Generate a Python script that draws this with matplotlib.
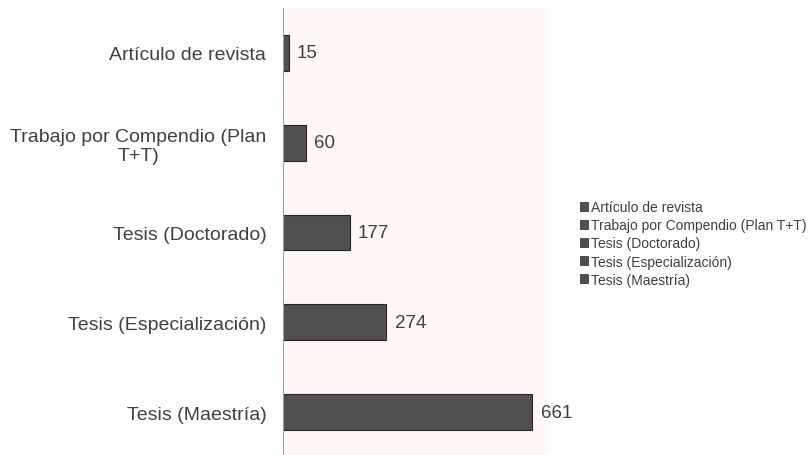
import matplotlib.pyplot as plt
from matplotlib.patches import Patch

plt.rcParams['font.family'] = ['Liberation Sans', 'DejaVu Sans']

categorias = ['Artículo de revista', 'Trabajo por Compendio (Plan T+T)',
              'Tesis (Doctorado)', 'Tesis (Especialización)', 'Tesis (Maestría)']
etiquetas = ['Artículo de revista', 'Trabajo por Compendio (Plan\nT+T)',
             'Tesis (Doctorado)', 'Tesis (Especialización)', 'Tesis (Maestría)']
valores = [15, 60, 177, 274, 661]

color_barra = '#505050'
color_fondo = '#fdf8f5'
color_texto = '#404040'

fig = plt.figure(figsize=(8.12, 4.56), dpi=100)
ax = fig.add_axes([283 / 812, -2 / 456, 264 / 812, 449 / 456])
ax.set_facecolor(color_fondo)

pos = list(range(len(categorias)))
barras = ax.barh(pos, valores, height=0.4, color=color_barra,
                 edgecolor='#262626', linewidth=0.8)
ax.bar_label(barras, padding=6, fontsize=13.5, color=color_texto)

ax.set_xlim(0, 700)
ax.set_ylim(len(categorias) - 0.5, -0.5)
ax.set_yticks(pos)
ax.set_yticklabels(etiquetas, fontsize=14, color=color_texto, multialignment='center')
ax.tick_params(axis='y', length=0, pad=12)
ax.set_xticks([])

for lado in ['top', 'right', 'bottom']:
    ax.spines[lado].set_visible(False)
ax.spines['left'].set_color('#a0a0a0')
ax.spines['left'].set_linewidth(0.8)

handles = [Patch(facecolor=color_barra, edgecolor='#262626', linewidth=0.5) for c in categorias]
fig.legend(handles, categorias, loc='upper left', bbox_to_anchor=(580 / 812, 1 - 201 / 456),
           frameon=False, fontsize=10, handlelength=0.6, handleheight=0.6,
           handletextpad=0.2, labelspacing=0.3, labelcolor=color_texto,
           borderaxespad=0, borderpad=0)

fig.savefig('out.png', dpi=100)
